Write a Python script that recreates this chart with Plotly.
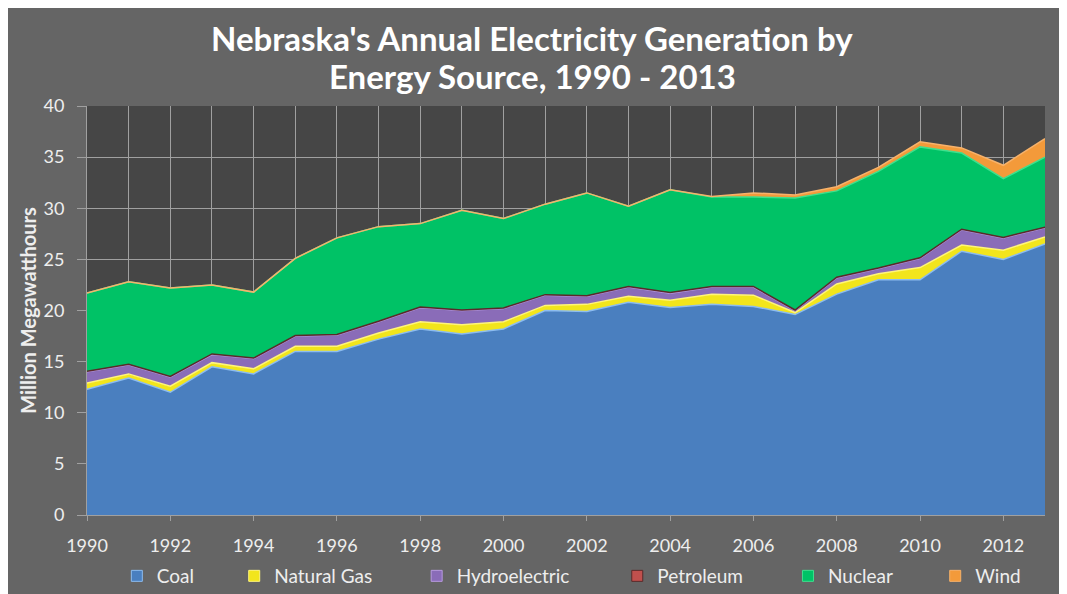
import plotly.graph_objects as go

years = list(range(1990, 2014))
coal = [12.3, 13.4, 12.0, 14.5, 13.8, 16.0, 16.0, 17.2, 18.2, 17.7, 18.2, 20.0,
        19.9, 20.8, 20.3, 20.6, 20.4, 19.6, 21.6, 23.0, 23.0, 25.8, 25.0, 26.5]
natural_gas = [0.6, 0.4, 0.6, 0.4, 0.5, 0.5, 0.5, 0.6, 0.7, 0.9, 0.7, 0.5,
               0.7, 0.6, 0.7, 1.0, 1.1, 0.2, 1.0, 0.6, 1.2, 0.6, 0.9, 0.7]
hydroelectric = [1.1, 0.9, 0.9, 0.8, 1.0, 1.0, 1.1, 1.1, 1.4, 1.4, 1.3, 1.0,
                 0.8, 0.9, 0.7, 0.7, 0.8, 0.2, 0.6, 0.5, 0.9, 1.5, 1.2, 0.9]
petroleum = [0.05] * 24
nuclear = [7.65, 8.05, 8.65, 6.75, 6.45, 7.55, 9.45, 9.25, 8.15, 9.75, 8.75, 8.85,
           10.05, 7.85, 10.05, 8.75, 8.75, 10.95, 8.45, 9.45, 10.85, 7.45, 5.75, 6.85]
wind = [0, 0, 0, 0, 0, 0, 0, 0, 0, 0, 0, 0,
        0, 0, 0, 0.05, 0.4, 0.3, 0.4, 0.4, 0.5, 0.5, 1.3, 1.8]

title_lines = ["Nebraska's Annual Electricity Generation by", "Energy Source, 1990 - 2013"]
y_title = "Million Megawatthours"

series = [
    ("Coal", coal, "#4a7fbf", "#8cbcf0"),
    ("Natural Gas", natural_gas, "#f2e51c", "#fff57a"),
    ("Hydroelectric", hydroelectric, "#8a6cb8", "#b79ae0"),
    ("Petroleum", petroleum, "#c0504d", "#5a2a2a"),
    ("Nuclear", nuclear, "#00c266", "#3ee08e"),
    ("Wind", wind, "#f39a3a", "#f7b26a"),
]
# legend entry positions (container fraction) for each series
legend_x = [0.102, 0.212, 0.383, 0.571, 0.731, 0.869]

font_family = "Lato, 'Open Sans', sans-serif"
txt = "#eeeeee"
W, H = 1067, 594
ML, MR, MT, MB = 79, 30, 98, 87
PH = H - MT - MB
PW = W - ML - MR

fig = go.Figure()
for name, vals, fill, edge in series:
    fig.add_trace(go.Scatter(
        x=years, y=vals, name=name, mode="lines",
        stackgroup="one", fillcolor=fill,
        line=dict(color=edge, width=1.5),
        showlegend=False, hoverinfo="x+y+name",
    ))

legend_layout = {}
for i, (name, vals, fill, edge) in enumerate(series):
    key = "legend" if i == 0 else "legend%d" % (i + 1)
    fig.add_trace(go.Scatter(
        x=[None], y=[None], name=name, mode="markers",
        marker=dict(symbol="square", size=11, color=fill,
                    line=dict(color=edge, width=1)),
        showlegend=True, legend=key,
    ))
    legend_layout[key] = dict(
        xref="container", yref="container",
        x=legend_x[i], xanchor="left", y=1 - 568 / H, yanchor="middle",
        orientation="h", bgcolor="rgba(0,0,0,0)", itemwidth=30,
        font=dict(family=font_family, size=19, color=txt),
    )

def py(fig_y):
    return (H - fig_y - MB) / PH

fig.update_layout(
    width=W, height=H,
    paper_bgcolor="#656565",
    plot_bgcolor="#464646",
    margin=dict(l=ML, r=MR, t=MT, b=MB, autoexpand=False),
    font=dict(family=font_family, color=txt, size=17),
    showlegend=True,
    xaxis=dict(
        range=[1990, 2013], tick0=1990, dtick=2, automargin=False,
        showgrid=True, gridcolor="#a0a0a0", gridwidth=1,
        minor=dict(dtick=1, showgrid=True, gridcolor="#a0a0a0", gridwidth=1),
        ticks="outside", ticklen=5, tickcolor="#a0a0a0", ticklabelstandoff=9,
        showline=True, linecolor="#a0a0a0",
        tickfont=dict(family=font_family, size=18, color=txt),
        zeroline=False,
    ),
    yaxis=dict(
        range=[0, 40], dtick=5, automargin=False,
        showgrid=True, gridcolor="#a0a0a0", gridwidth=1,
        ticks="outside", ticklen=9, tickcolor="#a0a0a0", ticklabelstandoff=9,
        showline=True, linecolor="#a0a0a0",
        tickfont=dict(family=font_family, size=18, color=txt),
        title=dict(text="<b>%s</b>" % y_title, standoff=1,
                   font=dict(family=font_family, size=20, color=txt)),
        zeroline=False,
    ),
    annotations=[
        dict(text="<b>%s</b>" % title_lines[0], xref="paper", yref="paper",
             x=(524 - ML) / PW, y=py(30), xanchor="center", yanchor="middle",
             showarrow=False, font=dict(family=font_family, size=33, color="#ffffff")),
        dict(text="<b>%s</b>" % title_lines[1], xref="paper", yref="paper",
             x=(524 - ML) / PW, y=py(68), xanchor="center", yanchor="middle",
             showarrow=False, font=dict(family=font_family, size=33, color="#ffffff")),
    ],
    **legend_layout,
)

fig.write_html("out.html")
